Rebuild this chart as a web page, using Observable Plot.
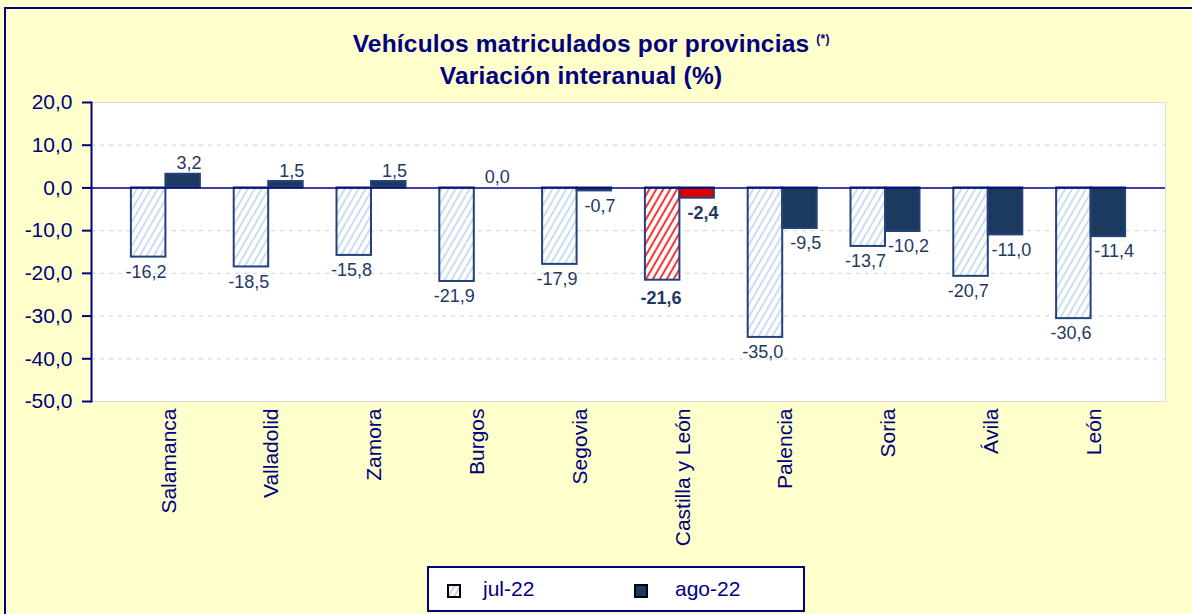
<!DOCTYPE html>
<html>
<head>
<meta charset="utf-8">
<script src="https://cdn.jsdelivr.net/npm/d3@7"></script>
<script src="https://cdn.jsdelivr.net/npm/@observablehq/plot@0.6"></script>
<style>
  body { margin: 0; background: #FFFFCC; }
  #wrap { position: relative; width: 1192px; height: 614px; background: #FFFFCC; overflow: hidden;
          font-family: "Liberation Sans", Arial, sans-serif; }
  #border { position: absolute; left: 4px; top: 7px; width: 1220px; height: 640px;
            border: 2px solid #000080; box-sizing: border-box; }
  #chart { position: absolute; left: 0; top: 0; }
  #title { position: absolute; left: 0; top: 28px; width: 1162px; text-align: center; color: #000080;
           font-weight: bold; font-size: 24.5px; line-height: 32px; letter-spacing: 0.2px; }
  #title .l1 { position: relative; display: inline-block; }
  #title .ast { position: absolute; left: 100%; margin-left: 7px; top: 4px; font-size: 12px; line-height: 14px; white-space: nowrap; }
  #legend { position: absolute; left: 427px; top: 566px; width: 378px; height: 46px; box-sizing: border-box;
            border: 2px solid #000080; background: #FFFFFF; color: #000080; font-size: 21px; }
  #legend .sw { position: absolute; top: 16px; }
  #legend .lt { position: absolute; top: 9px; line-height: 24px; }
</style>
</head>
<body>
<div id="wrap">
  <div id="border"></div>
  <div id="chart"></div>
  <div id="title"><span class="l1">Vehículos matriculados por provincias<span class="ast">(*)</span></span><br>Variación interanual (%)</div>
  <div id="legend">
    <svg class="sw" style="left:18px" width="14" height="14">
      <defs>
        <pattern id="lgHatch" patternUnits="userSpaceOnUse" width="5" height="5" patternTransform="rotate(30)">
          <rect width="5" height="5" fill="#FFFFFF"/>
          <line x1="2.5" y1="0" x2="2.5" y2="5" stroke="#AFC6E6" stroke-width="1.6"/>
        </pattern>
      </defs>
      <rect x="1" y="1" width="12" height="12" fill="url(#lgHatch)" stroke="#000000" stroke-width="2"/>
    </svg>
    <span class="lt" style="left:54px">jul-22</span>
    <svg class="sw" style="left:205px" width="14" height="14">
      <rect x="1" y="1" width="12" height="12" fill="#1C3A5F" stroke="#000000" stroke-width="2"/>
    </svg>
    <span class="lt" style="left:246px">ago-22</span>
  </div>
</div>
<script>
// ---- data ----
const provincias = ["Salamanca", "Valladolid", "Zamora", "Burgos", "Segovia", "Castilla y León", "Palencia", "Soria", "Ávila", "León"];
const jul22 = [-16.2, -18.5, -15.8, -21.9, -17.9, -21.6, -35.0, -13.7, -20.7, -30.6];
const ago22 = [3.2, 1.5, 1.5, 0.0, -0.7, -2.4, -9.5, -10.2, -11.0, -11.4];
const destacado = "Castilla y León";
const yTicks = [20, 10, 0, -10, -20, -30, -40, -50];
const gridVals = [10, -10, -20, -30, -40];

// ---- table ----
const rows = provincias.map((p, i) => ({prov: p, jul: jul22[i], ago: ago22[i]}));
const normal = rows.filter(d => d.prov !== destacado);
const hi = rows.filter(d => d.prov === destacado);
const fmt = v => v.toFixed(1).replace(".", ",");

const navy = "#000080";
const labelColor = "#1F3864";
const barDark = "#1C3A5F";
const barStroke = "#24437A";
const half = 1028 / 10 / 2;   // half band
const bw = 34.5;              // bar width
const lblStyle = "letter-spacing:0.8px";

const chart = Plot.plot({
  width: 1192,
  height: 614,
  marginTop: 102,
  marginBottom: 213,
  marginLeft: 91,
  marginRight: 27,
  style: {background: "none", fontFamily: "Liberation Sans, Arial, sans-serif", overflow: "visible"},
  x: {domain: provincias, padding: 0, round: false, insetLeft: 23, insetRight: 23, axis: null},
  y: {domain: [-50, 20], axis: null},
  marks: [
    Plot.frame({fill: "#FFFFFF", stroke: "#DDDDDD"}),
    Plot.ruleY(gridVals, {stroke: "#D9D9D9", strokeDasharray: "4,5", strokeWidth: 1.2}),
    // jul-22 bars
    Plot.barY(normal, {x: "prov", y: "jul", fill: "url(#hatchBlue)", stroke: barStroke, strokeWidth: 2,
      insetLeft: half - bw, insetRight: half}),
    Plot.barY(hi, {x: "prov", y: "jul", fill: "url(#hatchRed)", stroke: barStroke, strokeWidth: 2,
      insetLeft: half - bw, insetRight: half}),
    // ago-22 bars
    Plot.barY(normal, {x: "prov", y: "ago", fill: barDark, stroke: barStroke, strokeWidth: 2,
      insetLeft: half, insetRight: half - bw}),
    Plot.barY(hi, {x: "prov", y: "ago", fill: "#E00000", stroke: barStroke, strokeWidth: 2,
      insetLeft: half, insetRight: half - bw}),
    Plot.ruleY([0], {stroke: navy, strokeWidth: 1.6}),
    // y axis
    Plot.frame({anchor: "left", stroke: navy, strokeWidth: 2}),
    Plot.axisY({ticks: yTicks, tickFormat: fmt, tickSize: 9, tickPadding: 10, fontSize: 21,
      color: navy, strokeWidth: 2, label: null}),
    // category labels
    Plot.text(provincias, {x: d => d, frameAnchor: "bottom", rotate: -90, textAnchor: "end",
      lineAnchor: "middle", dy: 7, dx: 3, fontSize: 21, fill: navy}),
    // value labels jul
    Plot.text(normal, {x: "prov", y: "jul", text: d => fmt(d.jul), dx: -20, dy: 8, lineAnchor: "top",
      fontSize: 18, fill: labelColor, style: lblStyle}),
    Plot.text(hi, {x: "prov", y: "jul", text: d => fmt(d.jul), dx: -19, dy: 11, lineAnchor: "top",
      fontSize: 18, fontWeight: "bold", fill: labelColor, style: lblStyle}),
    // value labels ago
    Plot.text(normal.filter(d => d.ago >= 0), {x: "prov", y: "ago", text: d => fmt(d.ago), dx: 23, dy: -5,
      lineAnchor: "bottom", fontSize: 18, fill: labelColor, style: lblStyle}),
    Plot.text(normal.filter(d => d.ago < 0), {x: "prov", y: "ago", text: d => fmt(d.ago), dx: 23, dy: 8,
      lineAnchor: "top", fontSize: 18, fill: labelColor, style: lblStyle}),
    Plot.text(hi, {x: "prov", y: "ago", text: d => fmt(d.ago), dx: 23, dy: 8,
      lineAnchor: "top", fontSize: 18, fontWeight: "bold", fill: labelColor, style: lblStyle})
  ]
});

d3.select(chart).insert("defs", ":first-child").html(`
  <pattern id="hatchBlue" patternUnits="userSpaceOnUse" width="6" height="6" patternTransform="rotate(30)">
    <rect width="6" height="6" fill="#FFFFFF"/>
    <line x1="3" y1="0" x2="3" y2="6" stroke="#C6D9F0" stroke-width="1.8"/>
  </pattern>
  <pattern id="hatchRed" patternUnits="userSpaceOnUse" width="6" height="6" patternTransform="rotate(30)">
    <rect width="6" height="6" fill="#FFFFFF"/>
    <line x1="3" y1="0" x2="3" y2="6" stroke="#FF0000" stroke-width="1.6"/>
  </pattern>`);

document.getElementById("chart").appendChild(chart);
</script>
</body>
</html>
